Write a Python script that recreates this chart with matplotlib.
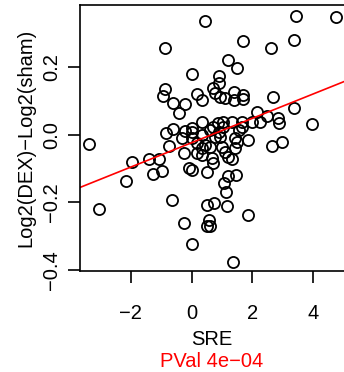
import matplotlib
matplotlib.use("Agg")
import matplotlib.pyplot as plt
import numpy as np

plt.rcParams['font.family'] = ['Liberation Sans', 'DejaVu Sans']

# SRE score vs log2 fold change
sre = [0.43, 3.44, 4.77, -0.86, 1.69, 2.62, 3.38, 1.19, 1.49, 0.00,
       0.89, 0.89, -0.86, -0.93, -0.60, -0.23, -0.40, 0.17, 0.36, 0.70,
       0.79, 0.93, 1.09, 1.39, 1.69, 1.39, 1.69, 2.68, 3.38, 2.15,
       2.48, 2.85, 2.88, 3.97, 2.25, 0.33, 0.86, 1.03, 1.03, 0.70,
       1.32, 1.66, 1.66, 1.99, -0.83, -0.60, -0.20, 0.00, 0.03, -0.30,
       -0.76, -0.26, 0.03, 0.17, 0.36, 0.36, 0.17, 0.89, 0.76, 0.60,
       0.99, 1.85, 1.49, 1.42, 1.09, 0.66, 1.19, 1.32, 0.70, -0.07,
       0.00, 0.50, 1.46, 0.60, 1.56, 0.43, 0.33, 1.19, 1.06, 1.13,
       0.50, 0.73, 1.16, 1.85, 0.56, 0.50, 0.60, 1.36, 2.65, 2.98,
       -3.38, -3.05, -2.15, -1.95, -1.42, -1.09, -1.26, -0.99, -0.63, -0.26,
       0.00, 0.93, 1.42]
logfc = [0.337, 0.352, 0.349, 0.257, 0.278, 0.257, 0.281, 0.222, 0.198, 0.180,
         0.175, 0.154, 0.136, 0.115, 0.095, 0.092, 0.065, 0.121, 0.104, 0.139,
         0.124, 0.112, 0.109, 0.127, 0.118, 0.104, 0.107, 0.112, 0.080, 0.068,
         0.056, 0.050, 0.036, 0.033, 0.038, 0.038, 0.036, 0.038, 0.024, 0.024,
         0.038, 0.038, 0.024, 0.038, 0.006, 0.018, 0.012, 0.021, 0.009, -0.009,
         -0.033, -0.053, -0.009, -0.024, 0.000, -0.038, -0.053, 0.009, -0.006, -0.036,
         -0.036, -0.015, -0.021, -0.038, -0.050, -0.068, -0.065, -0.071, -0.083, -0.098,
         -0.104, -0.109, -0.118, 0.015, 0.015, -0.030, -0.059, -0.121, -0.142, -0.169,
         -0.207, -0.201, -0.210, -0.237, -0.251, -0.269, -0.269, -0.376, -0.033, -0.021,
         -0.027, -0.219, -0.136, -0.080, -0.071, -0.071, -0.115, -0.107, -0.192, -0.260,
         -0.322, -0.006, -0.009]

# fitted line
intercept = -0.023
slope = 0.036
pval_text = "PVal 4e\u221204"

xticks = [-2, 0, 2, 4]
xtick_labels = ['\u22122', '0', '2', '4']
yticks = [-0.4, -0.2, 0.0, 0.2]
ytick_labels = ['\u22120.4', '\u22120.2', '0.0', '0.2']

fig = plt.figure(figsize=(3.44, 3.72), dpi=100)
ax = fig.add_axes([80/344, 1 - 271/372, 264/344, 266/372])

ax.plot(sre, logfc, 'o', mfc='none', mec='black', ms=8, mew=1.3)

xlim = (-3.68, 5.03)
ax.plot(xlim, [intercept + slope * x for x in xlim], color='red', lw=1.2)
ax.set_xlim(*xlim)
ax.set_ylim(-0.403, 0.385)

ax.spines['right'].set_visible(False)
for s in ['left', 'top', 'bottom']:
    ax.spines[s].set_linewidth(1.2)

ax.set_xticks(xticks)
ax.set_xticklabels(xtick_labels)
ax.set_yticks(yticks)
ax.set_yticklabels(ytick_labels, rotation=90, va='center')
ax.tick_params(length=8.5, width=1.2, labelsize=14.5)
ax.tick_params(axis='x', pad=15)
ax.tick_params(axis='y', pad=5)

ax.set_xlabel('SRE', fontsize=14.5, labelpad=5)
ax.set_ylabel('Log2(DEX)\u2212Log2(sham)', fontsize=14.5, labelpad=5)
ax.text(0.5, -0.34, pval_text, color='red', fontsize=14.5, ha='center',
        va='center', transform=ax.transAxes)

fig.savefig('out.png', dpi=100)
